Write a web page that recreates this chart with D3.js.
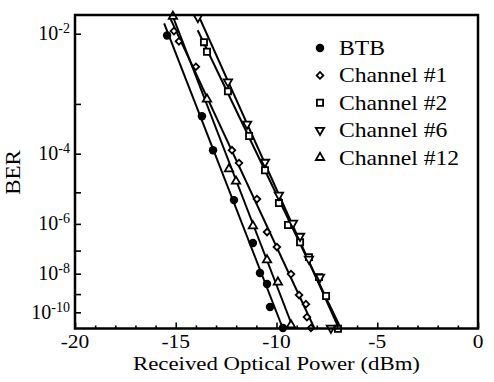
<!doctype html>
<html>
<head>
    <style>
        body {
            margin: 0;
            background: #fff;
        }

        text {
            font-family: 'Liberation Serif', 'Times New Roman', serif;
            fill: #000;
        }

        .frame {
            fill: none;
            stroke: #000;
            stroke-width: 2.5;
        }

        .fit {
            fill: none;
            stroke: #000;
            stroke-width: 2;
        }

        .axis path {
            stroke-width: 0;
        }

        .axis line {
            stroke: #000;
            stroke-width: 1.6;
        }
    </style>
    <script src="https://d3js.org/d3.v7.min.js"></script>
</head>
<body>
<svg width="494" height="382"></svg>
<script>
    // received optical power (dBm) and log10(BER) for each curve
    const names = ['BTB', 'Channel #1', 'Channel #2', 'Channel #6', 'Channel #12']

    const btbX = [-15.43, -13.70, -13.15, -12.11, -11.17, -10.82, -10.47, -10.32, -9.68]
    const btbY = [-2.02, -3.22, -3.92, -5.23, -6.70, -7.97, -8.49, -9.70, -10.95]

    const ch1X = [-15.09, -14.84, -14.00, -12.21, -11.86, -10.97, -10.47, -9.98, -9.28, -8.88, -8.54, -8.49, -8.29]
    const ch1Y = [-1.97, -2.09, -2.42, -3.92, -4.22, -5.20, -6.29, -6.86, -8.02, -9.05, -9.54, -10.28, -10.95]

    const ch2X = [-13.60, -13.45, -12.41, -11.36, -10.57, -9.88, -9.43, -8.83, -8.39, -7.89, -7.54, -6.95]
    const ch2Y = [-2.10, -2.22, -2.79, -3.61, -4.40, -5.32, -6.04, -6.67, -7.27, -8.16, -9.10, -11.0]

    const ch6X = [-13.90, -12.41, -11.46, -10.57, -9.88, -9.18, -8.83, -8.39, -7.84, -7.30]
    const ch6Y = [-1.82, -2.64, -3.37, -4.20, -5.08, -5.97, -6.44, -7.35, -8.16, -10.95]

    const ch12X = [-15.14, -13.45, -12.36, -12.01, -11.17, -10.47, -9.93, -9.28]
    const ch12Y = [-1.81, -2.92, -4.37, -4.69, -6.07, -7.39, -8.40, -10.76]

    const xTicks = [-20, -15, -10, -5, 0]
    const yTicks = [-2, -3, -4, -5, -6, -7, -8, -9, -10]
    const yLabels = [-2, -4, -6, -8, -10]

    const seriesX = [btbX, ch1X, ch2X, ch6X, ch12X]
    const seriesY = [btbY, ch1Y, ch2Y, ch6Y, ch12Y]

    const svg = d3.select('svg')

    const pLeft = 75, pRight = 478, pTop = 15, pBottom = 328.5

    const x = d3.scaleLinear().domain([-20, 0]).range([pLeft, pRight])

    // BER axis: log10(-log10(BER)) is linear on the page
    const yLin = d3.scaleLinear()
        .domain([Math.log10(1.795), Math.log10(10.98)])
        .range([pTop, pBottom])
    const y = (e) => yLin(Math.log10(-e))

    svg.append('defs').append('clipPath').attr('id', 'plot')
        .append('rect')
        .attr('x', pLeft).attr('y', pTop)
        .attr('width', pRight - pLeft).attr('height', pBottom - pTop)

    // fitted lines (least squares in the transformed space)
    const fits = seriesX.map((xs, k) => {
        const ls = seriesY[k].map((e) => Math.log10(-e))
        const mx = d3.mean(xs), ml = d3.mean(ls)
        let sxy = 0, sxx = 0
        xs.forEach((v, i) => {
            sxy += (v - mx) * (ls[i] - ml)
            sxx += (v - mx) * (v - mx)
        })
        const b = sxy / sxx
        const a = ml - b * mx
        // start a little above the first point, run to the bottom of the frame
        const l0 = Math.max(yLin.domain()[0], d3.min(ls) - 0.03)
        const l1 = yLin.domain()[1]
        return [[(l0 - a) / b, l0], [(l1 - a) / b, l1]]
    })

    svg.append('g')
        .attr('clip-path', 'url(#plot)')
        .selectAll('line')
        .data(fits)
        .enter()
        .append('line')
        .attr('class', 'fit')
        .attr('x1', (d) => x(d[0][0]))
        .attr('y1', (d) => yLin(d[0][1]))
        .attr('x2', (d) => x(d[1][0]))
        .attr('y2', (d) => yLin(d[1][1]))

    const shapes = [
        { type: d3.symbolCircle, size: 56, fill: '#000', rot: 0 },
        { type: d3.symbolSquare, size: 22, fill: '#fff', rot: 45 },
        { type: d3.symbolSquare, size: 38, fill: '#fff', rot: 0 },
        { type: d3.symbolTriangle, size: 30, fill: '#fff', rot: 180 },
        { type: d3.symbolTriangle, size: 30, fill: '#fff', rot: 0 }
    ]

    const drawMark = (g, k, px, py) => {
        const s = shapes[k]
        g.append('path')
            .attr('d', d3.symbol().type(s.type).size(s.size)())
            .attr('transform', `translate(${px}, ${py}) rotate(${s.rot})`)
            .attr('fill', s.fill)
            .attr('stroke', '#000')
            .attr('stroke-width', k === 0 ? 0 : 1.8)
    }

    const marks = svg.append('g')
    seriesX.forEach((xs, k) => {
        xs.forEach((v, i) => drawMark(marks, k, x(v), y(seriesY[k][i])))
    })

    // axes
    const xAxis = svg.append('g')
        .attr('class', 'axis')
        .attr('transform', `translate(0, ${pBottom})`)
        .call(d3.axisTop(x).ticks(20).tickSize(3).tickFormat(''))
    xAxis.selectAll('.tick line')
        .attr('y2', (d) => d % 5 === 0 ? -6 : -3)

    svg.append('g')
        .selectAll('text')
        .data(xTicks)
        .enter()
        .append('text')
        .attr('transform', (d) => `translate(${x(d)}, ${pBottom + 19}) scale(1.1, 1)`)
        .attr('text-anchor', 'middle')
        .attr('font-size', 19.5)
        .text((d) => d)

    svg.append('g')
        .attr('class', 'axis')
        .attr('transform', `translate(${pLeft}, 0)`)
        .call(d3.axisRight(yLin).tickValues(yTicks.map((e) => Math.log10(-e))).tickSize(6).tickFormat(''))

    const yl = svg.append('g')
        .selectAll('text')
        .data(yLabels)
        .enter()
        .append('text')
        .attr('x', pLeft - 5)
        .attr('y', (d) => y(d) + 6.5)
        .attr('text-anchor', 'end')
    yl.append('tspan').attr('font-size', 20).text('10')
    yl.append('tspan').attr('font-size', 14).attr('dy', -7).text((d) => d)

    svg.append('rect')
        .attr('class', 'frame')
        .attr('x', pLeft).attr('y', pTop)
        .attr('width', pRight - pLeft).attr('height', pBottom - pTop)

    // axis titles
    svg.append('text')
        .attr('transform', `translate(${(pLeft + pRight) / 2}, 369.5) scale(1.17, 1)`)
        .attr('text-anchor', 'middle')
        .attr('font-size', 19.5)
        .text('Received Optical Power (dBm)')

    svg.append('text')
        .attr('transform', 'translate(20, 172.5) rotate(-90) scale(1.15, 1)')
        .attr('text-anchor', 'middle')
        .attr('font-size', 20)
        .text('BER')

    // legend
    const legend = svg.append('g')
    names.forEach((n, k) => {
        const cy = 48 + k * 27.4
        drawMark(legend, k, 320, cy)
        legend.append('text')
            .attr('transform', `translate(339, ${cy + 7}) scale(1.1, 1)`)
            .attr('font-size', 21.5)
            .text(n)
    })
</script>
</body>
</html>
